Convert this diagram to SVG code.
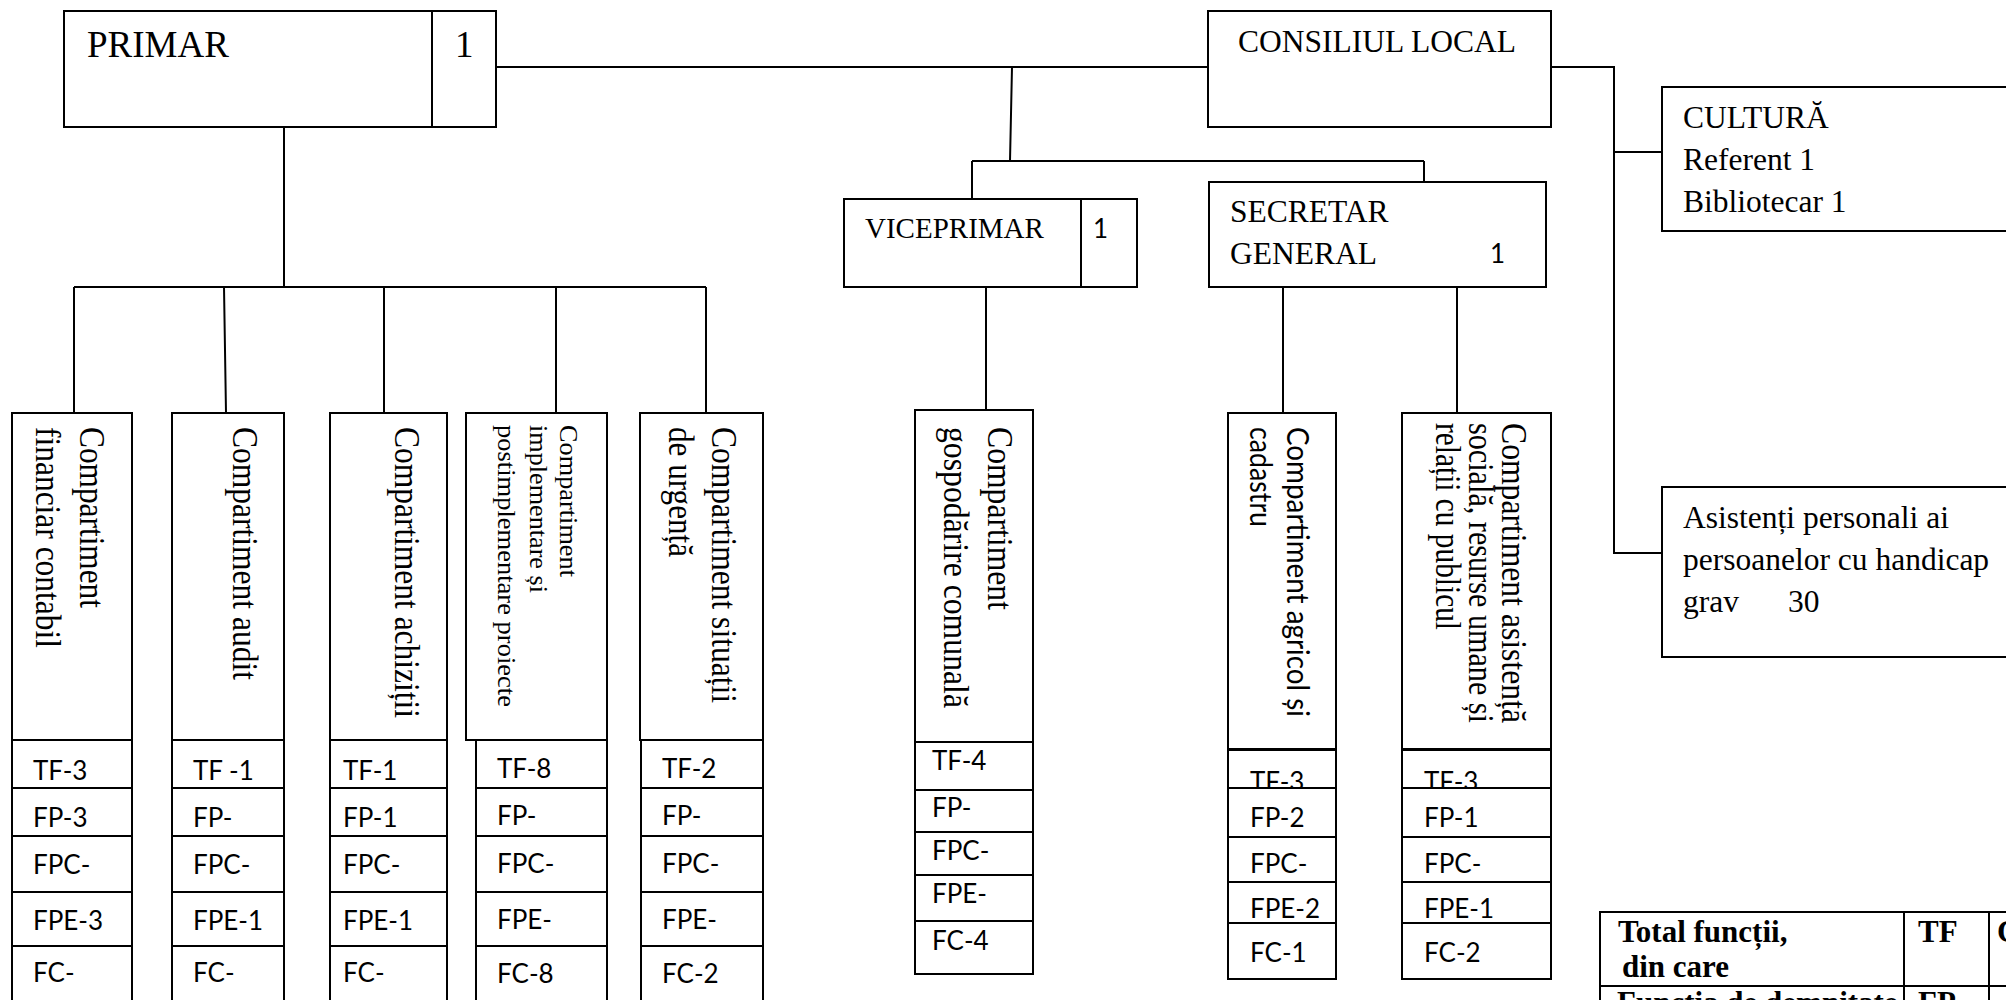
<svg xmlns="http://www.w3.org/2000/svg" width="2006" height="1000" viewBox="0 0 2006 1000">
<style>
.b{fill:#fff;stroke:#000;stroke-width:2}
.c{fill:none;stroke:#000;stroke-width:2}
.s{font-family:"Liberation Serif","Times New Roman",serif;fill:#000}
.k{font-family:Lato,"Liberation Sans",sans-serif;fill:#000}
.r{font-family:"Liberation Serif","Times New Roman",serif;font-size:35px;fill:#000}
.t{font-family:Lato,"Liberation Sans",sans-serif;font-size:26px;fill:#000}
.tb{font-family:"Liberation Serif","Times New Roman",serif;font-size:31px;font-weight:bold;fill:#000}
</style>
<rect width="2006" height="1000" fill="#fff"/>
<g id="connectors">
<path class="c" d="M496,67 H1208 M1012,67 L1010,161 M972,161 H1424 M972,161 V199 M1424,161 V182 M284,127 V287 M74,287 H706 M74,287 V413 M224,287 L226,413 M384,287 V413 M556,287 V413 M706,287 V413 M986,287 V410 M1283,287 V413 M1457,287 V413 M1551,67 H1614 V553 H1662 M1614,152 H1662"/>
</g>
<g id="primar">
<rect class="b" x="64" y="11" width="432" height="116"/>
<line class="c" x1="432" y1="11" x2="432" y2="127"/>
<text class="s" x="87" y="57" font-size="37">PRIMAR</text>
<text class="s" x="455" y="57" font-size="37">1</text>
</g>
<g id="consiliul">
<rect class="b" x="1208" y="11" width="343" height="116"/>
<text class="s" x="1238" y="52" font-size="31.5">CONSILIUL LOCAL</text>
</g>
<g id="viceprimar">
<rect class="b" x="844" y="199" width="293" height="88"/>
<line class="c" x1="1081" y1="199" x2="1081" y2="287"/>
<text class="s" x="865" y="238" font-size="29">VICEPRIMAR</text>
<text class="k" x="1093" y="238" font-size="26">1</text>
</g>
<g id="secretar">
<rect class="b" x="1209" y="182" width="337" height="105"/>
<text class="s" x="1230" y="222" font-size="31.5">SECRETAR</text>
<text class="s" x="1230" y="264" font-size="31.5">GENERAL</text>
<text class="k" x="1490" y="263" font-size="26">1</text>
</g>
<g id="cultura">
<rect class="b" x="1662" y="87" width="360" height="144"/>
<text class="s" x="1683" y="128" font-size="31.5">CULTURĂ</text>
<text class="s" x="1683" y="170" font-size="31.5">Referent 1</text>
<text class="s" x="1683" y="212" font-size="31.5">Bibliotecar 1</text>
</g>
<g id="asistenti">
<rect class="b" x="1662" y="487" width="360" height="170"/>
<text class="s" x="1683" y="528" font-size="31.5">Asistenți personali ai</text>
<text class="s" x="1683" y="570" font-size="31.5">persoanelor cu handicap</text>
<text class="s" x="1683" y="612" font-size="31.5">grav</text>
<text class="s" x="1788" y="612" font-size="31.5">30</text>
</g>
<g id="comp-financiar">
<rect class="b" x="12" y="413" width="120" height="327"/>
<text class="r" transform="translate(80,427) rotate(90)" textLength="181" lengthAdjust="spacingAndGlyphs">Compartiment</text>
<text class="r" transform="translate(36,427) rotate(90)" textLength="221" lengthAdjust="spacingAndGlyphs">financiar contabil</text>
<rect class="b" x="12" y="740" width="120" height="48"/><text class="t" x="33" y="780">TF-3</text>
<rect class="b" x="12" y="788" width="120" height="48"/><text class="t" x="33" y="827">FP-3</text>
<rect class="b" x="12" y="836" width="120" height="56"/><text class="t" x="33" y="874">FPC-</text>
<rect class="b" x="12" y="892" width="120" height="54"/><text class="t" x="33" y="930">FPE-3</text>
<rect class="b" x="12" y="946" width="120" height="60"/><text class="t" x="33" y="982">FC-</text>
</g>
<g id="comp-audit">
<rect class="b" x="172" y="413" width="112" height="327"/>
<text class="r" transform="translate(233,427) rotate(90)" textLength="253" lengthAdjust="spacingAndGlyphs">Compartiment audit</text>
<rect class="b" x="172" y="740" width="112" height="48"/><text class="t" x="193" y="780">TF -1</text>
<rect class="b" x="172" y="788" width="112" height="48"/><text class="t" x="193" y="827">FP-</text>
<rect class="b" x="172" y="836" width="112" height="56"/><text class="t" x="193" y="874">FPC-</text>
<rect class="b" x="172" y="892" width="112" height="54"/><text class="t" x="193" y="930">FPE-1</text>
<rect class="b" x="172" y="946" width="112" height="60"/><text class="t" x="193" y="982">FC-</text>
</g>
<g id="comp-achizitii">
<rect class="b" x="330" y="413" width="117" height="327"/>
<text class="r" transform="translate(395,427) rotate(90)" textLength="291" lengthAdjust="spacingAndGlyphs">Compartiment achiziții</text>
<rect class="b" x="330" y="740" width="117" height="48"/><text class="t" x="343" y="780">TF-1</text>
<rect class="b" x="330" y="788" width="117" height="48"/><text class="t" x="343" y="827">FP-1</text>
<rect class="b" x="330" y="836" width="117" height="56"/><text class="t" x="343" y="874">FPC-</text>
<rect class="b" x="330" y="892" width="117" height="54"/><text class="t" x="343" y="930">FPE-1</text>
<rect class="b" x="330" y="946" width="117" height="60"/><text class="t" x="343" y="982">FC-</text>
</g>
<g id="comp-implementare">
<rect class="b" x="466" y="413" width="141" height="327"/>
<text class="s" font-size="26" transform="translate(560,425) rotate(90)" textLength="152" lengthAdjust="spacingAndGlyphs">Compartiment</text>
<text class="s" font-size="26" transform="translate(530,425) rotate(90)" textLength="168" lengthAdjust="spacingAndGlyphs">implementare și</text>
<text class="s" font-size="26" transform="translate(498,425) rotate(90)" textLength="282" lengthAdjust="spacingAndGlyphs">postimplementare proiecte</text>
<rect class="b" x="476" y="740" width="131" height="48"/><text class="t" x="497" y="778">TF-8</text>
<rect class="b" x="476" y="788" width="131" height="48"/><text class="t" x="497" y="825">FP-</text>
<rect class="b" x="476" y="836" width="131" height="56"/><text class="t" x="497" y="873">FPC-</text>
<rect class="b" x="476" y="892" width="131" height="54"/><text class="t" x="497" y="929">FPE-</text>
<rect class="b" x="476" y="946" width="131" height="60"/><text class="t" x="497" y="983">FC-8</text>
</g>
<g id="comp-situatii">
<rect class="b" x="640" y="413" width="123" height="327"/>
<text class="r" transform="translate(712,427) rotate(90)" textLength="276" lengthAdjust="spacingAndGlyphs">Compartiment situații</text>
<text class="r" transform="translate(669,427) rotate(90)" textLength="130" lengthAdjust="spacingAndGlyphs">de urgență</text>
<rect class="b" x="641" y="740" width="122" height="48"/><text class="t" x="662" y="778">TF-2</text>
<rect class="b" x="641" y="788" width="122" height="48"/><text class="t" x="662" y="825">FP-</text>
<rect class="b" x="641" y="836" width="122" height="56"/><text class="t" x="662" y="873">FPC-</text>
<rect class="b" x="641" y="892" width="122" height="54"/><text class="t" x="662" y="929">FPE-</text>
<rect class="b" x="641" y="946" width="122" height="60"/><text class="t" x="662" y="983">FC-2</text>
</g>
<g id="comp-gospodarire">
<rect class="b" x="915" y="410" width="118" height="332"/>
<text class="r" transform="translate(988,427) rotate(90)" textLength="183" lengthAdjust="spacingAndGlyphs">Compartiment</text>
<text class="r" transform="translate(944,427) rotate(90)" textLength="281" lengthAdjust="spacingAndGlyphs">gospodărire comunală</text>
<rect class="b" x="915" y="742" width="118" height="48"/><text class="t" x="932" y="770">TF-4</text>
<rect class="b" x="915" y="790" width="118" height="42"/><text class="t" x="932" y="817">FP-</text>
<rect class="b" x="915" y="832" width="118" height="43"/><text class="t" x="932" y="860">FPC-</text>
<rect class="b" x="915" y="875" width="118" height="46"/><text class="t" x="932" y="903">FPE-</text>
<rect class="b" x="915" y="921" width="118" height="53"/><text class="t" x="932" y="950">FC-4</text>
</g>
<g id="comp-agricol">
<rect class="b" x="1228" y="413" width="108" height="336"/>
<text class="k" font-size="30" transform="translate(1287,427) rotate(90)" textLength="290" lengthAdjust="spacingAndGlyphs">Compartiment agricol și</text>
<text class="k" font-size="30" transform="translate(1250,427) rotate(90)" textLength="100" lengthAdjust="spacingAndGlyphs">cadastru</text>
<rect class="b" x="1228" y="750" width="108" height="38"/><text class="t" x="1250" y="791">TF-3</text>
<rect class="b" x="1228" y="788" width="108" height="49"/><text class="t" x="1250" y="827">FP-2</text>
<rect class="b" x="1228" y="837" width="108" height="45"/><text class="t" x="1250" y="873">FPC-</text>
<rect class="b" x="1228" y="882" width="108" height="41"/><text class="t" x="1250" y="918">FPE-2</text>
<rect class="b" x="1228" y="923" width="108" height="56"/><text class="t" x="1250" y="962">FC-1</text>
</g>
<g id="comp-asistenta">
<rect class="b" x="1402" y="413" width="149" height="336"/>
<text class="r" transform="translate(1502,423) rotate(90)" textLength="300" lengthAdjust="spacingAndGlyphs">Compartiment asistență</text>
<text class="r" transform="translate(1469,423) rotate(90)" textLength="300" lengthAdjust="spacingAndGlyphs">socială, resurse umane și</text>
<text class="r" transform="translate(1436,423) rotate(90)" textLength="207" lengthAdjust="spacingAndGlyphs">relații cu publicul</text>
<rect class="b" x="1402" y="750" width="149" height="38"/><text class="t" x="1424" y="791">TF-3</text>
<rect class="b" x="1402" y="788" width="149" height="49"/><text class="t" x="1424" y="827">FP-1</text>
<rect class="b" x="1402" y="837" width="149" height="45"/><text class="t" x="1424" y="873">FPC-</text>
<rect class="b" x="1402" y="882" width="149" height="41"/><text class="t" x="1424" y="918">FPE-1</text>
<rect class="b" x="1402" y="923" width="149" height="56"/><text class="t" x="1424" y="962">FC-2</text>
</g>
<g id="totals-table">
<rect class="b" x="1600" y="912" width="420" height="100"/>
<path class="c" d="M1904,912 V1005 M1989,912 V1005 M1600,986 H2010"/>
<text class="tb" x="1618" y="942">Total funcții,</text>
<text class="tb" x="1622" y="977">din care</text>
<text class="tb" x="1918" y="942">TF</text>
<text class="tb" x="1997" y="942">C</text>
<text class="tb" x="1617" y="1013">Funcția de demnitate</text>
<text class="tb" x="1918" y="1013">FP</text>
</g>
</svg>
